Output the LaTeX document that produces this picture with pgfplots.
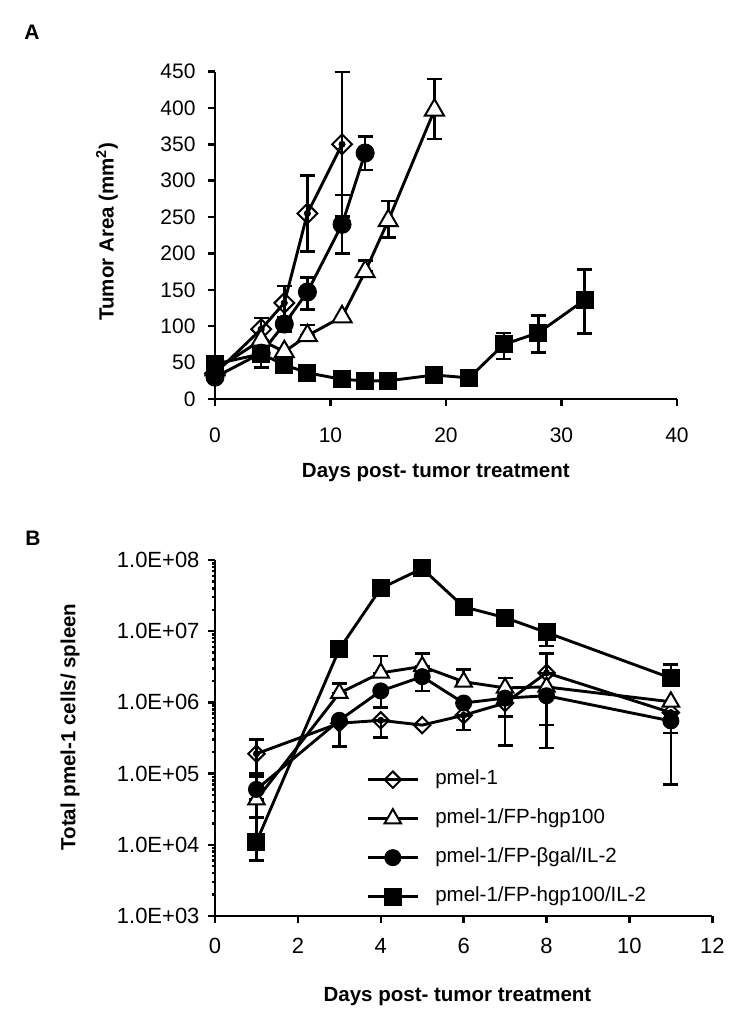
\documentclass[border=0pt]{standalone}
\usepackage{pgfplots}
\pgfplotsset{compat=1.18}
\usepackage{pgfplotstable}
\usepackage{fontspec}
\setmainfont{Liberation Sans}

% ---------------- Panel A data ----------------
\pgfplotstableread{
x y
0 35
4 96
6 132
8 255
11 350
}\Adia
\pgfplotstableread{
x y ep em
4 96 15 15
6 132 23 23
8 255 52 52
11 350 99 99
}\AdiaE
\pgfplotstableread{
x y
0 40
4 81
6 65
8 87
11 113
13 175
15 245
19 397
}\Atri
\pgfplotstableread{
x y ep em
8 87 15 0
13 175 15 0
15 245 27 23
19 397 43 40
}\AtriE
\pgfplotstableread{
x y
0 30
4 63
6 103
8 147
11 240
13 338
}\Acir
\pgfplotstableread{
x y ep em
6 103 10 10
8 147 20 24
11 240 40 40
13 338 23 23
}\AcirE
\pgfplotstableread{
x y
0 48
4 62
6 47
8 36
11 27
13 25
15 25
19 33
22 29
25 75
28 91
32 136
}\Asq
\pgfplotstableread{
x y ep em
4 62 0 19
25 75 16 20
28 91 24 27
32 136 42 46
}\AsqE

% ---------------- Panel B data ----------------
\pgfplotstableread{
x y
1 1.9e5
3 5.1e5
4 5.6e5
5 4.8e5
6 6.6e5
7 9.8e5
8 2.6e6
11 7.2e5
}\Bdia
\pgfplotstableread{
x y ep em
1 1.9e5 1.1e5 0.9e5
3 5.1e5 0 2.7e5
4 5.6e5 0 2.4e5
6 6.6e5 0 2.5e5
7 9.8e5 0 7.3e5
8 2.6e6 2.3e6 0
11 7.2e5 0 3.5e5
}\BdiaE
\pgfplotstableread{
x y
1 4.3e4
3 1.35e6
4 2.6e6
5 3.2e6
6 1.95e6
7 1.6e6
8 1.65e6
11 1.02e6
}\Btri
\pgfplotstableread{
x y ep em
1 4.3e4 0 1.9e4
3 1.35e6 0.5e6 0
4 2.6e6 1.9e6 0
5 3.2e6 1.7e6 0
6 1.95e6 0.95e6 0
7 1.6e6 0.6e6 0
8 1.65e6 0 1.17e6
}\BtriE
\pgfplotstableread{
x y
1 6.0e4
3 5.6e5
4 1.45e6
5 2.3e6
6 9.8e5
7 1.15e6
8 1.24e6
11 5.5e5
}\Bcir
\pgfplotstableread{
x y ep em
1 6.0e4 3.1e4 0
4 1.45e6 0 0.6e6
5 2.3e6 0 0.85e6
7 1.15e6 0 0.52e6
8 1.24e6 0 1.01e6
11 5.5e5 0 4.8e5
}\BcirE
\pgfplotstableread{
x y
1 1.1e4
3 5.6e6
4 4.0e7
5 7.6e7
6 2.2e7
7 1.55e7
8 9.6e6
11 2.2e6
}\Bsq
\pgfplotstableread{
x y ep em
1 1.1e4 1.3e4 5e3
8 9.6e6 0 3.4e6
11 2.2e6 1.2e6 0
}\BsqE

\pgfplotsset{
  common/.style={
    scale only axis,
    axis lines=left,
    axis line style={line width=2.8bp, -},
    tick style={line width=2.5bp, black},
    tick align=outside,
    major tick length=7bp,
    /pgf/number format/assume math mode=true,
    label style={font=\fontsize{20.5bp}{24bp}\selectfont\bfseries},
    every axis plot/.append style={line width=2.9bp, black},
    clip=false,
  },
  errstyle/.style={
    only marks, mark=none, forget plot, black,
    error bars/.cd, y dir=both, y explicit,
    error mark=-,
    error bar style={line width=2.5bp, black, solid},
    error mark options={rotate=90, mark size=7.5bp, line width=2.5bp, black, solid},
  },
}

\begin{document}
\begin{tikzpicture}
\path[use as bounding box] (0bp,0bp) rectangle (742bp,-1031bp);
\node[font=\fontsize{21bp}{24bp}\selectfont\bfseries] at (32bp,-32bp) {A};
\node[font=\fontsize{21bp}{24bp}\selectfont\bfseries] at (33bp,-538bp) {B};

% ---------------- Panel A ----------------
\begin{axis}[common,
  at={(215bp,-399bp)}, anchor=south west,
  width=462bp, height=327.5bp,
  xmin=0, xmax=40, ymin=0, ymax=450,
  xtick={0,10,20,30,40}, ytick={0,50,...,450},
  ticklabel style={font=\fontsize{21bp}{24bp}\selectfont},
  yticklabel style={xshift=-9bp},
  xticklabel style={yshift=-18bp},
  xlabel={Days post- tumor treatment},
  ylabel={Tumor Area (mm\textsuperscript{2})},
  xlabel style={at={(axis description cs:0.478,-0.241)}, anchor=base},
  ylabel style={at={(axis description cs:-0.234,0.511)}, anchor=center},
]
\addplot[errstyle] table[x=x,y=y,y error plus=ep,y error minus=em] {\AdiaE};
\addplot[mark=square, mark size=7bp, mark options={rotate=45, fill=white, solid, line width=2bp}] table[x=x,y=y] {\Adia};
\addplot[errstyle] table[x=x,y=y,y error plus=ep,y error minus=em] {\AtriE};
\addplot[mark=triangle*, mark size=11bp, mark options={fill=white, solid, line width=2bp}] table[x=x,y=y] {\Atri};
\addplot[errstyle] table[x=x,y=y,y error plus=ep,y error minus=em] {\AcirE};
\addplot[mark=*, mark size=9bp, mark options={fill=black, solid, line width=1bp}] table[x=x,y=y] {\Acir};
\addplot[errstyle] table[x=x,y=y,y error plus=ep,y error minus=em] {\AsqE};
\addplot[mark=square*, mark size=8.5bp, mark options={fill=black, solid, line width=1bp}] table[x=x,y=y] {\Asq};
\end{axis}

% ---------------- Panel B ----------------
\begin{axis}[common,
  at={(215bp,-916bp)}, anchor=south west,
  width=497.3bp, height=356bp,
  xmin=0, xmax=12, ymin=1e3, ymax=1e8, ymode=log,
  xtick={0,2,...,12},
  ytick={1e3,1e4,1e5,1e6,1e7,1e8},
  yticklabels={1.0E+03,1.0E+04,1.0E+05,1.0E+06,1.0E+07,1.0E+08},
  ticklabel style={font=\fontsize{22bp}{25bp}\selectfont},
  yticklabel style={xshift=-5bp},
  xticklabel style={yshift=-12bp},
  xlabel={Days post- tumor treatment},
  ylabel={Total pmel-1 cells/ spleen},
  xlabel style={at={(axis description cs:0.4876,-0.2407)}, anchor=base},
  ylabel style={at={(axis description cs:-0.2916,0.531)}, anchor=center},
  legend style={draw=none, fill=none, at={(axis description cs:0.304,0.4166)}, anchor=north west,
    font=\fontsize{20.5bp}{24bp}\selectfont, row sep=15.5bp, column sep=14bp, inner sep=0pt,
    nodes={inner sep=2bp, text height=15bp, text depth=4.5bp}},
  legend cell align=left,
  legend image code/.code={\draw[mark repeat=2,mark phase=2,#1] plot coordinates {(0bp,0bp) (25bp,0bp) (50bp,0bp)};},
]
\addplot[errstyle] table[x=x,y=y,y error plus=ep,y error minus=em] {\BdiaE};
\addplot[mark=square, mark size=5.8bp, mark options={rotate=45, fill=white, solid, line width=2bp}] table[x=x,y=y] {\Bdia};
\addlegendentry{pmel-1}
\addplot[errstyle] table[x=x,y=y,y error plus=ep,y error minus=em] {\BtriE};
\addplot[mark=triangle*, mark size=9.5bp, mark options={fill=white, solid, line width=2bp}] table[x=x,y=y] {\Btri};
\addlegendentry{pmel-1/FP-hgp100}
\addplot[errstyle] table[x=x,y=y,y error plus=ep,y error minus=em] {\BcirE};
\addplot[mark=*, mark size=8bp, mark options={fill=black, solid, line width=1bp}] table[x=x,y=y] {\Bcir};
\addlegendentry{pmel-1/FP-βgal/IL-2}
\addplot[errstyle] table[x=x,y=y,y error plus=ep,y error minus=em] {\BsqE};
\addplot[mark=square*, mark size=8.5bp, mark options={fill=black, solid, line width=1bp}] table[x=x,y=y] {\Bsq};
\addlegendentry{pmel-1/FP-hgp100/IL-2}
\end{axis}
\end{tikzpicture}
\end{document}
